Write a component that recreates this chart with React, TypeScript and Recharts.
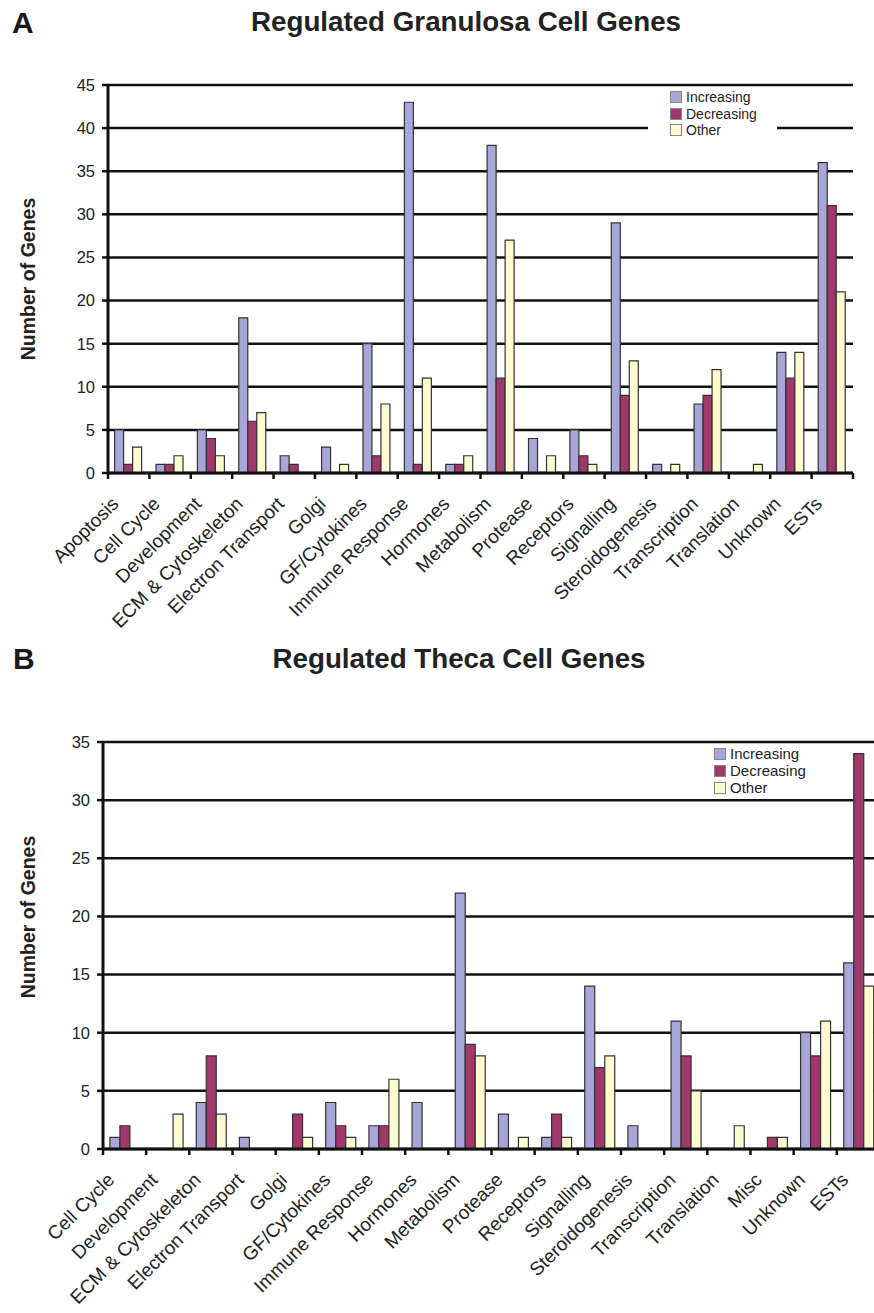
import React from "react";
import { BarChart, Bar, XAxis, YAxis, CartesianGrid } from "recharts";

const CAT_A = ["Apoptosis", "Cell Cycle", "Development", "ECM & Cytoskeleton", "Electron Transport", "Golgi", "GF/Cytokines", "Immune Response", "Hormones", "Metabolism", "Protease", "Receptors", "Signalling", "Steroidogenesis", "Transcription", "Translation", "Unknown", "ESTs"];
const INC_A = [5, 1, 5, 18, 2, 3, 15, 43, 1, 38, 4, 5, 29, 1, 8, 0, 14, 36];
const DEC_A = [1, 1, 4, 6, 1, 0, 2, 1, 1, 11, 0, 2, 9, 0, 9, 0, 11, 31];
const OTH_A = [3, 2, 2, 7, 0, 1, 8, 11, 2, 27, 2, 1, 13, 1, 12, 1, 14, 21];
const TICKS_A = [0, 5, 10, 15, 20, 25, 30, 35, 40, 45];

const CAT_B = ["Cell Cycle", "Development", "ECM & Cytoskeleton", "Electron Transport", "Golgi", "GF/Cytokines", "Immune Response", "Hormones", "Metabolism", "Protease", "Receptors", "Signalling", "Steroidogenesis", "Transcription", "Translation", "Misc", "Unknown", "ESTs"];
const INC_B = [1, 0, 4, 1, 0, 4, 2, 4, 22, 3, 1, 14, 2, 11, 0, 0, 10, 16];
const DEC_B = [2, 0, 8, 0, 3, 2, 2, 0, 9, 0, 3, 7, 0, 8, 0, 1, 8, 34];
const OTH_B = [0, 3, 3, 0, 1, 1, 6, 0, 8, 1, 1, 8, 0, 5, 2, 1, 11, 14];
const TICKS_B = [0, 5, 10, 15, 20, 25, 30, 35];

const SERIES = ["Increasing", "Decreasing", "Other"];
const COLORS = ["#a8a6d8", "#a1386c", "#fdfbcf"];

const FONT = "'Liberation Sans', Arial, sans-serif";

const dataA = CAT_A.map((c, i) => ({ cat: c, Increasing: INC_A[i], Decreasing: DEC_A[i], Other: OTH_A[i] }));
const dataB = CAT_B.map((c, i) => ({ cat: c, Increasing: INC_B[i], Decreasing: DEC_B[i], Other: OTH_B[i] }));

function makeTick(step: number, n: number, dx: number, dy: number) {
  return (props: any) => {
    const { x, y, payload, index } = props;
    const half = step / 2;
    return (
      <g>
        <line x1={x - half} x2={x - half} y1={y} y2={y + 6} stroke="#111" strokeWidth={2.5} />
        {index === n - 1 ? (
          <line x1={x + half} x2={x + half} y1={y} y2={y + 6} stroke="#111" strokeWidth={2.5} />
        ) : null}
        <text
          x={x + dx}
          y={y + dy}
          textAnchor="end"
          transform={`rotate(-45 ${x + dx} ${y + dy})`}
          fontFamily={FONT}
          fontSize={19}
          fill="#222"
        >
          {payload.value}
        </text>
      </g>
    );
  };
}

function LegendBox(props: { left: number; top: number; width: number; height: number; padLeft: number; rowH: number; fontSize: number; bg?: string }) {
  const { left, top, width, height, padLeft, rowH, fontSize, bg } = props;
  return (
    <div
      style={{
        position: "absolute",
        left,
        top,
        width,
        height,
        background: bg || "transparent",
        paddingLeft: padLeft,
        boxSizing: "border-box",
        fontFamily: FONT,
        fontSize,
        color: "#222",
      }}
    >
      {SERIES.map((s, i) => (
        <div key={s} style={{ display: "flex", alignItems: "center", height: rowH, lineHeight: `${rowH}px` }}>
          <span
            style={{
              display: "inline-block",
              width: 10,
              height: 10,
              background: COLORS[i],
              border: "1px solid #888",
              marginRight: 4,
              flex: "none",
            }}
          />
          <span style={{ whiteSpace: "nowrap" }}>{s}</span>
        </div>
      ))}
    </div>
  );
}

export default function App() {
  const stepA = 745 / CAT_A.length;
  const stepB = 777 / CAT_B.length;
  return (
    <div style={{ position: "absolute", left: 0, top: 0, width: 874, height: 1313, overflow: "hidden", background: "#fff" }}>
      <div style={{ position: "absolute", left: 0, top: 0 }}>
        <BarChart
          width={874}
          height={640}
          data={dataA}
          margin={{ top: 85, right: 21, left: 68, bottom: 0 }}
          barCategoryGap="16%"
          barGap={0}
        >
          <CartesianGrid vertical={false} stroke="#111" strokeWidth={2.5} strokeOpacity={1} />
          <XAxis
            dataKey="cat"
            interval={0}
            height={167}
            tickSize={0}
            tickMargin={0}
            tickLine={false}
            axisLine={{ stroke: "#111", strokeWidth: 3 }}
            tick={makeTick(stepA, CAT_A.length, -9, 32)}
          />
          <YAxis
            width={40}
            domain={[0, 45]}
            ticks={TICKS_A}
            interval={0}
            tickSize={6}
            tickMargin={7}
            axisLine={{ stroke: "#111", strokeWidth: 3 }}
            tickLine={{ stroke: "#111", strokeWidth: 2.5 }}
            tick={{ fontFamily: FONT, fontSize: 16.5, fill: "#222" }}
          />
          <YAxis
            yAxisId="r"
            orientation="right"
            width={0}
            tick={false}
            tickLine={false}
            axisLine={{ stroke: "#111", strokeWidth: 2.5 }}
          />
          {SERIES.map((s, i) => (
            <Bar key={s} dataKey={s} fill={COLORS[i]} stroke="#333" strokeWidth={1.2} isAnimationActive={false} />
          ))}
        </BarChart>
      </div>

      <div style={{ position: "absolute", left: 0, top: 690 }}>
        <BarChart
          width={900}
          height={623}
          data={dataB}
          margin={{ top: 52, right: 20, left: 63, bottom: 0 }}
          barCategoryGap="16%"
          barGap={0}
        >
          <CartesianGrid vertical={false} stroke="#111" strokeWidth={2.5} strokeOpacity={1} />
          <XAxis
            dataKey="cat"
            interval={0}
            height={164}
            tickSize={0}
            tickMargin={0}
            tickLine={false}
            axisLine={{ stroke: "#111", strokeWidth: 3 }}
            tick={makeTick(stepB, CAT_B.length, -9, 32)}
          />
          <YAxis
            width={40}
            domain={[0, 35]}
            ticks={TICKS_B}
            interval={0}
            tickSize={6}
            tickMargin={7}
            axisLine={{ stroke: "#111", strokeWidth: 3 }}
            tickLine={{ stroke: "#111", strokeWidth: 2.5 }}
            tick={{ fontFamily: FONT, fontSize: 16.5, fill: "#222" }}
          />
          {SERIES.map((s, i) => (
            <Bar key={s} dataKey={s} fill={COLORS[i]} stroke="#333" strokeWidth={1.2} isAnimationActive={false} />
          ))}
        </BarChart>
      </div>

      <LegendBox left={648} top={89} width={129} height={52} padLeft={22} rowH={16.5} fontSize={14} bg="#fff" />
      <LegendBox left={714} top={745} width={120} height={52} padLeft={0} rowH={17} fontSize={15} />

      <svg width={874} height={1313} style={{ position: "absolute", left: 0, top: 0, pointerEvents: "none" }}>
        <text x={12} y={33} fontFamily={FONT} fontWeight="bold" fontSize={30} fill="#1a1a1a">A</text>
        <text x={466} y={31} textAnchor="middle" fontFamily={FONT} fontWeight="bold" fontSize={27} fill="#222" textLength={430} lengthAdjust="spacingAndGlyphs">Regulated Granulosa Cell Genes</text>
        <text x={35} y={279} textAnchor="middle" transform="rotate(-90 35 279)" fontFamily={FONT} fontWeight="bold" fontSize={19.5} fill="#222">Number of Genes</text>
        <text x={13} y={669} fontFamily={FONT} fontWeight="bold" fontSize={30} fill="#1a1a1a">B</text>
        <text x={459} y={668} textAnchor="middle" fontFamily={FONT} fontWeight="bold" fontSize={27} fill="#222" textLength={373} lengthAdjust="spacingAndGlyphs">Regulated Theca Cell Genes</text>
        <text x={35} y={917} textAnchor="middle" transform="rotate(-90 35 917)" fontFamily={FONT} fontWeight="bold" fontSize={19.5} fill="#222">Number of Genes</text>
      </svg>
    </div>
  );
}
